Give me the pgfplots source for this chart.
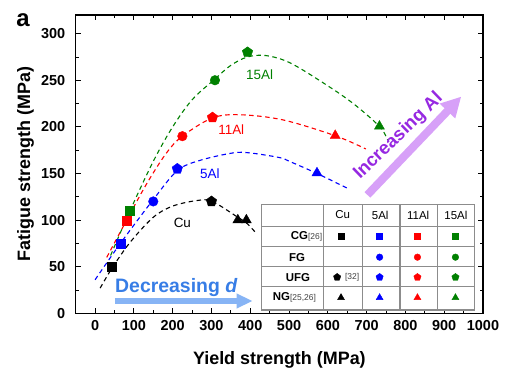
\documentclass[border=0pt]{standalone}
\usepackage{pgfplots}
\pgfplotsset{compat=1.18}
\usepackage{fontspec}
\setmainfont{Liberation Sans}
\usetikzlibrary{arrows.meta}
\definecolor{cgreen}{RGB}{0,128,0}
\definecolor{cred}{RGB}{255,0,0}
\definecolor{cblue}{RGB}{0,0,255}
\definecolor{arrblue}{RGB}{135,180,245}
\definecolor{txtblue}{RGB}{55,125,230}
\definecolor{arrpurple}{RGB}{215,160,248}
\definecolor{txtpurple}{RGB}{150,40,225}
\definecolor{tabgray}{RGB}{140,140,140}
\pgfplotsset{
  fitcurve/.style={line width=1.1bp, dash pattern=on 4.5bp off 3.5bp, smooth, tension=0.55, no markers},
  msq/.style={only marks, mark=square*, mark size=4.5bp},
  mci/.style={only marks, mark=*, mark size=4.8bp},
  mpe/.style={only marks, mark=pentagon*, mark size=5.5bp},
  mtr/.style={only marks, mark=triangle*, mark size=5.8bp},
  tsq/.style={only marks, mark=square*, mark size=3bp},
  tci/.style={only marks, mark=*, mark size=3.3bp},
  tpe/.style={only marks, mark=pentagon*, mark size=3.8bp},
  ttr/.style={only marks, mark=triangle*, mark size=4bp},
}
\begin{document}
\begin{tikzpicture}
\begin{axis}[name=ax, scale only axis, width=407.3bp, height=298.3bp,
  xmin=-50, xmax=1000, ymin=0, ymax=320,
  xtick={0,100,...,1000}, ytick={0,50,...,300},
  minor x tick num=1, minor y tick num=1,
  tick align=inside, major tick length=5bp, minor tick length=3bp,
  axis line style={line width=1.1bp},
  every tick/.style={black, line width=0.9bp},
  tick label style={font=\bfseries\fontsize{14.5}{16}\selectfont},
  xticklabel style={yshift=-4bp},
  yticklabel style={xshift=-7bp},
  /pgf/number format/assume math mode=true, /pgf/number format/1000 sep={},
  xlabel={Yield strength (MPa)}, ylabel={Fatigue strength (MPa)},
  label style={font=\bfseries\fontsize{18}{20}\selectfont},
  xlabel style={at={(axis description cs:0.5,-0.173)}, anchor=base},
  ylabel style={at={(axis description cs:-0.123,0.5)}, anchor=center},
  clip=false]

% fitted trend curves
\addplot[fitcurve, black] coordinates {(13,27) (43,48) (90,76) (150,103) (200,115) (263,121) (302,120) (368,103) (390,97) (413,87)};
\addplot[fitcurve, cblue] coordinates {(0,36) (67,76) (150,122) (212,153) (270,164) (355,172) (400,172) (476,167) (501,163) (572,150) (651,134)};
\addplot[fitcurve, cred] coordinates {(30,60) (81.5,100) (133,139) (184,172) (225,190) (302,209.5) (373,213) (484,207.5) (619,190.5) (698,176.3)};
\addplot[fitcurve, cgreen] coordinates {(40,62) (90,110) (150,163) (200,200) (250,229) (308,251) (350,266) (393,275) (440,276.5) (501,269) (587,247.5) (664,225.5) (733,200.5) (754,186)};

% data points
\addplot[msq, black] coordinates {(43,50)};
\addplot[mpe, black] coordinates {(300,120)};
\addplot[mtr, black] coordinates {(368,100) (390,100)};
\addplot[msq, cblue] coordinates {(67,74.5)};
\addplot[mci, cblue] coordinates {(150,120)};
\addplot[mpe, cblue] coordinates {(212,155)};
\addplot[mtr, cblue] coordinates {(572,150.5)};
\addplot[msq, cred] coordinates {(81.5,99.6)};
\addplot[mci, cred] coordinates {(225,190)};
\addplot[mpe, cred] coordinates {(302.6,210)};
\addplot[mtr, cred] coordinates {(619,190.6)};
\addplot[msq, cgreen] coordinates {(90,110)};
\addplot[mci, cgreen] coordinates {(309,250)};
\addplot[mpe, cgreen] coordinates {(393,280)};
\addplot[mtr, cgreen] coordinates {(733,200.6)};

% curve labels
\node[text=cgreen, font=\fontsize{13.5}{14}\selectfont] at (424,256) {15Al};
\node[text=cred, font=\fontsize{13.5}{14}\selectfont] at (351,197) {11Al};
\node[text=cblue, font=\fontsize{13.5}{14}\selectfont] at (296,150) {5Al};
\node[text=black, font=\fontsize{13.5}{14}\selectfont] at (225,96.5) {Cu};

% arrows
\draw[arrblue, line width=5.5bp, -{Triangle[length=16bp, width=14bp]}] (51,13.2) -- (406,13.2);
\node[anchor=base, text=txtblue, font=\bfseries\fontsize{19.5}{20}\selectfont] at (209.5,22.2) {Decreasing \textit{d}};
\draw[arrpurple, line width=8bp, -{Triangle[length=20bp, width=20bp]}] (702,127) -- (944,232.5);
\node[rotate=44, text=txtpurple, font=\bfseries\fontsize{18.5}{20}\selectfont] at (782,190) {Increasing Al};

% panel letter
\node[font=\bfseries\fontsize{24}{24}\selectfont] at (-186,314.3) {a};

% legend table
\fill[white] (430,3.5) rectangle (979,117);
\draw[tabgray, line width=1.1bp] (430,3.5) rectangle (979,117);
\draw[tabgray, line width=1.1bp] (430,93.5) -- (979,93.5) (430,71.5) -- (979,71.5) (430,50) -- (979,50) (430,28.3) -- (979,28.3);
\draw[tabgray, line width=1.1bp] (588,3.5) -- (588,117) (688.6,3.5) -- (688.6,117) (786,3.5) -- (786,117) (881.7,3.5) -- (881.7,117);
\node[font=\fontsize{11.5}{12}\selectfont] at (638,105.5) {Cu};
\node[font=\fontsize{11.5}{12}\selectfont] at (735,105.5) {5Al};
\node[font=\fontsize{11.5}{12}\selectfont] at (833,105.5) {11Al};
\node[font=\fontsize{11.5}{12}\selectfont] at (930,105.5) {15Al};
\node[font=\bfseries\fontsize{11.5}{12}\selectfont] at (545,82.4) {CG{\mdseries\fontsize{8.5}{9}\selectfont\color{darkgray}[26]}};
\node[font=\bfseries\fontsize{11.5}{12}\selectfont] at (520.6,60.2) {FG};
\node[font=\bfseries\fontsize{11.5}{12}\selectfont] at (523,38.7) {UFG};
\node[font=\bfseries\fontsize{11.5}{12}\selectfont] at (514,16.8) {NG{\mdseries\fontsize{8.5}{9}\selectfont\color{darkgray}[25,26]}};
\node[font=\fontsize{8.5}{9}\selectfont, text=darkgray] at (662.5,38.7) {[32]};
\addplot[tsq, black] coordinates {(634,82.4)};
\addplot[tpe, black] coordinates {(624,38.7)};
\addplot[ttr, black] coordinates {(634,16.8)};
\addplot[tsq, cblue] coordinates {(733.5,82.4)};
\addplot[tci, cblue] coordinates {(733.5,60.2)};
\addplot[tpe, cblue] coordinates {(733.5,38.7)};
\addplot[ttr, cblue] coordinates {(733.5,16.8)};
\addplot[tsq, cred] coordinates {(831,82.4)};
\addplot[tci, cred] coordinates {(831,60.2)};
\addplot[tpe, cred] coordinates {(831,38.7)};
\addplot[ttr, cred] coordinates {(831,16.8)};
\addplot[tsq, cgreen] coordinates {(929,82.4)};
\addplot[tci, cgreen] coordinates {(929,60.2)};
\addplot[tpe, cgreen] coordinates {(929,38.7)};
\addplot[ttr, cgreen] coordinates {(929,16.8)};
\end{axis}
\pgfresetboundingbox
\path[use as bounding box] ([shift={(-75.7bp,-57.7bp)}]ax.south west) rectangle ([shift={(25bp,15bp)}]ax.north east);
\end{tikzpicture}
\end{document}
